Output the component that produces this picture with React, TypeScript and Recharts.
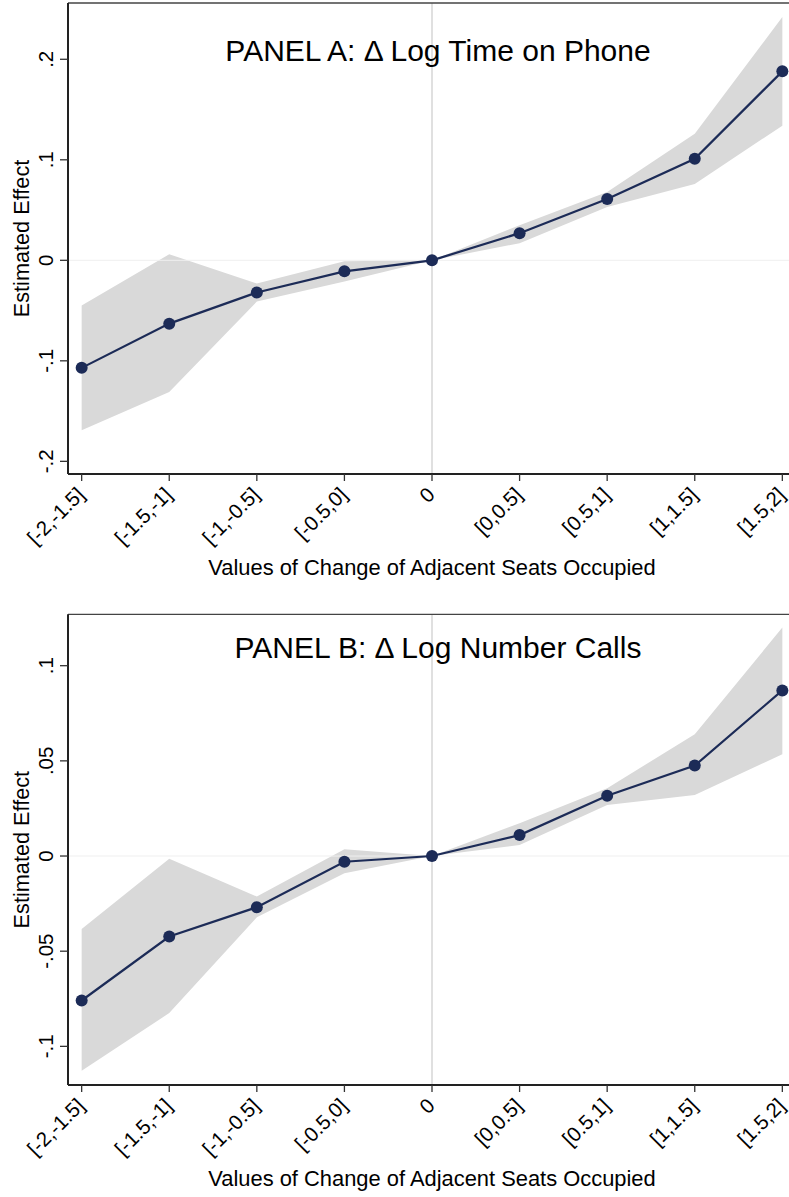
import React from 'react';
import {
  ComposedChart,
  Line,
  Area,
  XAxis,
  YAxis,
  ReferenceLine,
} from 'recharts';

// ---------- data ----------
const categories = ['[-2,-1.5]', '[-1.5,-1]', '[-1,-0.5]', '[-0.5,0]', '0', '[0,0.5]', '[0.5,1]', '[1,1.5]', '[1.5,2]'];

const phoneEffect = [-0.107, -0.063, -0.032, -0.011, 0, 0.027, 0.061, 0.101, 0.188];
const phoneLower = [-0.169, -0.131, -0.041, -0.021, 0, 0.017, 0.053, 0.076, 0.134];
const phoneUpper = [-0.045, 0.006, -0.023, -0.001, 0, 0.035, 0.068, 0.126, 0.242];

const callsEffect = [-0.0759, -0.0423, -0.0269, -0.003, 0, 0.011, 0.0317, 0.0475, 0.087];
const callsLower = [-0.1128, -0.0825, -0.0322, -0.0091, 0, 0.0058, 0.0268, 0.032, 0.0535];
const callsUpper = [-0.0383, -0.0014, -0.0213, 0.0035, 0, 0.0172, 0.0356, 0.064, 0.12];

const phoneYTicks = [-0.2, -0.1, 0, 0.1, 0.2];
const phoneYTickLabels = ['-.2', '-.1', '0', '.1', '.2'];
const callsYTicks = [-0.1, -0.05, 0, 0.05, 0.1];
const callsYTickLabels = ['-.1', '-.05', '0', '.05', '.1'];

const titleA = 'PANEL A: \u0394 Log Time on Phone';
const titleB = 'PANEL B: \u0394 Log Number Calls';
const xTitle = 'Values of Change of Adjacent Seats Occupied';
const yTitle = 'Estimated Effect';

const FONT = '"Liberation Sans", Arial, Helvetica, sans-serif';
const NAVY = '#1c2b57';

type PanelProps = {
  effect: number[];
  lower: number[];
  upper: number[];
  yMin: number;
  yMax: number;
  yTicks: number[];
  yTickLabels: string[];
  title: string;
  titleOffset: number;
  top: number;
  height: number;
  marginTop: number;
  xAxisHeight: number;
};

function Panel(p: PanelProps) {
  const data = categories.map((c, i) => ({
    x: i,
    name: c,
    effect: p.effect[i],
    band: [p.lower[i], p.upper[i]],
  }));
  const xIdx = categories.map((_, i) => i);

  const renderXTick = (props: any) => {
    const { x, y, payload } = props;
    const label = categories[payload.value] ?? '';
    return (
      <g transform={`translate(${x + 4},${y + 13})`}>
        <text
          x={0}
          y={0}
          transform="rotate(-45)"
          textAnchor="end"
          fontFamily={FONT}
          fontSize={20.5}
          fill="#000"
        >
          {label}
        </text>
      </g>
    );
  };

  const renderYTick = (props: any) => {
    const { y, payload } = props;
    const idx = p.yTicks.findIndex((t) => Math.abs(t - payload.value) < 1e-9);
    const label = idx >= 0 ? p.yTickLabels[idx] : '';
    return (
      <text
        x={53}
        y={y}
        transform={`rotate(-90, 53, ${y})`}
        textAnchor="middle"
        fontFamily={FONT}
        fontSize={20.5}
        fill="#000"
      >
        {label}
      </text>
    );
  };

  const renderXTitle = (props: any) => {
    const vb = props.viewBox || {};
    return (
      <text
        x={vb.x + vb.width / 2}
        y={vb.y + 101}
        textAnchor="middle"
        fontFamily={FONT}
        fontSize={21.9}
        fill="#000"
      >
        {xTitle}
      </text>
    );
  };

  const renderYTitle = (props: any) => {
    const vb = props.viewBox || {};
    const cy = vb.y + vb.height / 2;
    return (
      <text
        x={29}
        y={cy}
        transform={`rotate(-90, 29, ${cy})`}
        textAnchor="middle"
        fontFamily={FONT}
        fontSize={21.7}
        fill="#000"
      >
        {yTitle}
      </text>
    );
  };

  const renderTitle = (props: any) => {
    const vb = props.viewBox || {};
    return (
      <text
        x={438}
        y={vb.y + p.titleOffset}
        textAnchor="middle"
        fontFamily={FONT}
        fontSize={30}
        fill="#000"
      >
        {p.title}
      </text>
    );
  };

  return (
    <div style={{ position: 'absolute', left: 0, top: p.top }}>
      <ComposedChart
        width={797}
        height={p.height}
        data={data}
        margin={{ top: p.marginTop, right: 1, left: 8, bottom: 0 }}
      >
        <XAxis
          type="number"
          dataKey="x"
          domain={[-0.156, 8.156]}
          ticks={xIdx}
          allowDataOverflow
          height={p.xAxisHeight}
          tick={renderXTick}
          tickSize={7}
          tickLine={{ stroke: '#333', strokeWidth: 1.3 }}
          axisLine={{ stroke: '#222', strokeWidth: 2 }}
          label={{ content: renderXTitle }}
        />
        <YAxis
          type="number"
          domain={[p.yMin, p.yMax]}
          ticks={p.yTicks}
          allowDataOverflow
          width={60}
          tick={renderYTick}
          tickSize={8}
          tickLine={{ stroke: '#333', strokeWidth: 1.3 }}
          axisLine={{ stroke: '#222', strokeWidth: 2 }}
          label={{ content: renderYTitle }}
        />
        <ReferenceLine y={0} stroke="#efefef" strokeWidth={1} />
        <ReferenceLine x={4} stroke="#cccccc" strokeWidth={1.2} />
        <ReferenceLine y={p.yMax} stroke="#444" strokeWidth={1.3} label={{ content: renderTitle }} />
        <Area
          type="linear"
          dataKey="band"
          stroke="none"
          fill="#d9d9d9"
          fillOpacity={1}
          isAnimationActive={false}
          activeDot={false}
        />
        <Line
          type="linear"
          dataKey="effect"
          stroke={NAVY}
          strokeWidth={2.2}
          dot={{ r: 6, fill: NAVY, stroke: 'none' }}
          activeDot={false}
          isAnimationActive={false}
        />
      </ComposedChart>
    </div>
  );
}

export default function App() {
  return (
    <div
      style={{
        position: 'absolute',
        left: 0,
        top: 0,
        width: 789,
        height: 1197,
        overflow: 'hidden',
        background: '#fff',
      }}
    >
      <Panel
        effect={phoneEffect}
        lower={phoneLower}
        upper={phoneUpper}
        yMin={-0.2126}
        yMax={0.256}
        yTicks={phoneYTicks}
        yTickLabels={phoneYTickLabels}
        title={titleA}
        titleOffset={58}
        top={0}
        height={600}
        marginTop={3}
        xAxisHeight={126}
      />
      <Panel
        effect={callsEffect}
        lower={callsLower}
        upper={callsUpper}
        yMin={-0.1203}
        yMax={0.127}
        yTicks={callsYTicks}
        yTickLabels={callsYTickLabels}
        title={titleB}
        titleOffset={43.7}
        top={600}
        height={597}
        marginTop={14.3}
        xAxisHeight={112}
      />
    </div>
  );
}
